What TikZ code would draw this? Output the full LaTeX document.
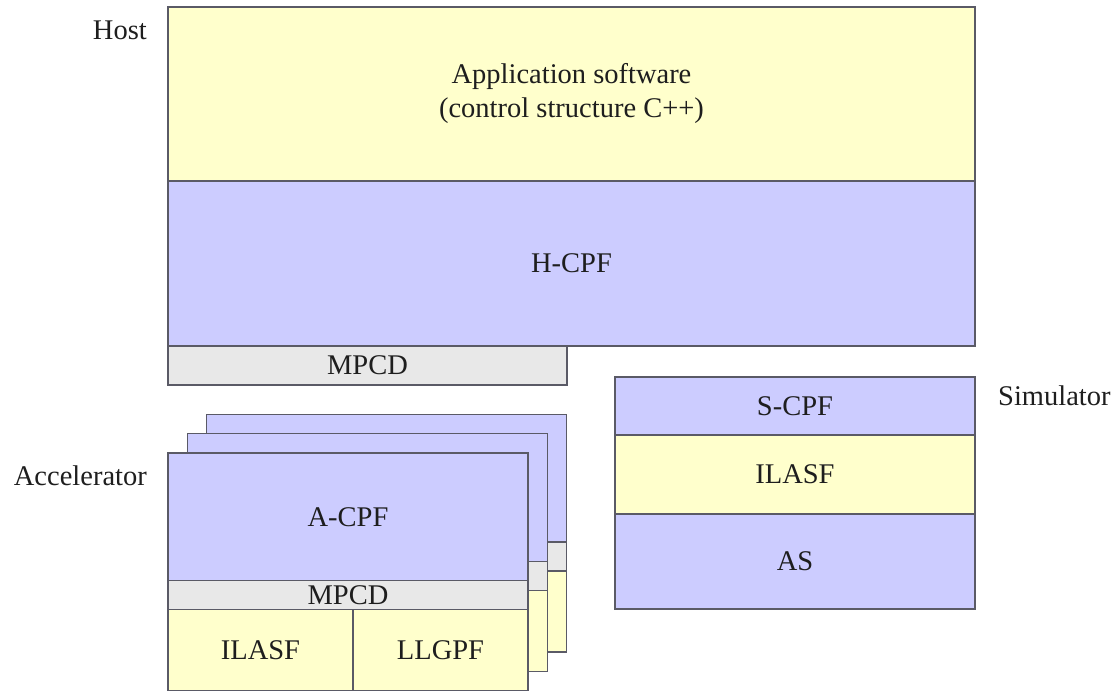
\documentclass[tikz,border=0pt]{standalone}
\usepackage{fontspec}
\setmainfont{Liberation Serif}
\definecolor{appyellow}{HTML}{FFFFCC}
\definecolor{cpfblue}{HTML}{CCCCFF}
\definecolor{mpcdgray}{HTML}{E8E8E8}
\definecolor{edgegray}{HTML}{5A5A66}
\definecolor{inktext}{HTML}{1E1E1E}
\begin{document}
\begin{tikzpicture}[x=1pt,y=-1pt,
  layer/.style={draw=edgegray, line width=1.3pt, inner sep=0pt, outer sep=0pt,
                text=inktext, align=center, font=\fontsize{28.5}{34}\selectfont},
  yellowlayer/.style={layer, fill=appyellow},
  bluelayer/.style={layer, fill=cpfblue},
  graylayer/.style={layer, fill=mpcdgray},
  sidelabel/.style={inner sep=0pt, text=inktext, font=\fontsize{28.5}{34}\selectfont}]
\useasboundingbox (0,0) rectangle (1117,692);

% Host stack
\node[yellowlayer, minimum width=807, minimum height=174] (app) at (571.5,94)
  {Application software\\(control structure C++)};
\node[bluelayer, minimum width=807, minimum height=165] (hcpf) at (571.5,263.5) {H-CPF};
\node[graylayer, minimum width=399, minimum height=39] (hmpcd) at (367.5,365.5) {MPCD};
\node[sidelabel, anchor=base east] (hostlbl) at (147,40) {Host};

% Simulator stack
\node[bluelayer, minimum width=360, minimum height=58] (scpf) at (795,406) {S-CPF};
\node[yellowlayer, minimum width=360, minimum height=79] (silasf) at (795,474.5) {ILASF};
\node[bluelayer, minimum width=360, minimum height=95] (sas) at (795,561.5) {AS};
\node[sidelabel, anchor=base west] (simlbl) at (998,406) {Simulator};

% Accelerator copies behind the front one
\foreach \k/\dx/\dy in {3/38.6/-38.7, 2/19.3/-19.3}{
  \begin{scope}[shift={(\dx,\dy)}]
    \node[bluelayer, minimum width=360, minimum height=128] (acpf\k) at (348,517) {};
    \node[graylayer, minimum width=360, minimum height=29] (ampcd\k) at (348,595.3) {};
    \node[yellowlayer, minimum width=360, minimum height=81] (abase\k) at (348,650.3) {};
  \end{scope}
}

% Front accelerator
\node[bluelayer, minimum width=360, minimum height=128] (acpf) at (348,517) {A-CPF};
\node[graylayer, minimum width=360, minimum height=29] (ampcd) at (348,595.3) {MPCD};
\node[yellowlayer, minimum width=185, minimum height=81] (ailasf) at (260.5,650.3) {ILASF};
\node[yellowlayer, minimum width=175, minimum height=81] (allgpf) at (440.5,650.3) {LLGPF};
\node[sidelabel, anchor=base east] (acclbl) at (147,485.7) {Accelerator};
\end{tikzpicture}
\end{document}
